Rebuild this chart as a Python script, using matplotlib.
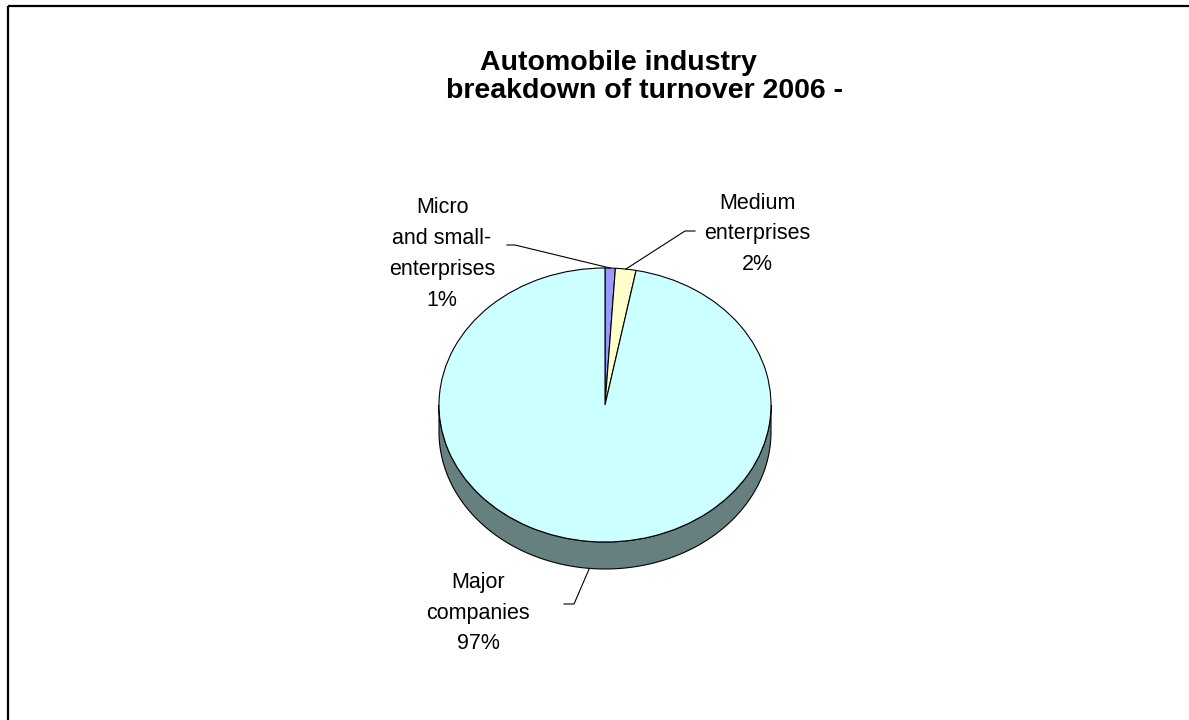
import numpy as np
import matplotlib
matplotlib.use("Agg")
import matplotlib.pyplot as plt
from matplotlib.patches import Rectangle, Polygon

plt.rcParams['font.family'] = ['Liberation Sans', 'DejaVu Sans']

# turnover share by company size, 2006
sizes = ["Micro\nand small-\nenterprises", "Medium\nenterprises", "Major\ncompanies"]
shares = [1, 2, 97]
colors = ["#9999FF", "#FFFFCC", "#CCFFFF"]
side_color = "#668080"

W, H = 1189, 720
fig = plt.figure(figsize=(W / 100, H / 100), dpi=100)

# overlay in pixel units for text, border and leader lines
over = fig.add_axes([0, 0, 1, 1], zorder=3)
over.set_xlim(0, W)
over.set_ylim(H, 0)
over.axis("off")
over.patch.set_alpha(0)

# pie geometry (pixels)
cx, cy = 605, 405
rx, ry = 166, 137
depth = 27
span = 1.3
pie_ax = fig.add_axes([(cx - span * rx) / W, 1 - (cy + span * ry) / H,
                       2 * span * rx / W, 2 * span * ry / H], zorder=2)

# side of the disc (front half), shifted down by depth
d = depth / ry
t = np.linspace(np.pi, 2 * np.pi, 200)
band = np.concatenate([np.column_stack([np.cos(t), np.sin(t)]),
                       np.column_stack([np.cos(t[::-1]), np.sin(t[::-1]) - d])])
pie_ax.add_patch(Polygon(band, closed=True, facecolor=side_color,
                         edgecolor="black", linewidth=0.8, zorder=0))

wedges, _ = pie_ax.pie(shares, colors=colors, startangle=90, counterclock=False,
                       wedgeprops=dict(edgecolor="black", linewidth=0.8))
pie_ax.set_aspect("auto")
pie_ax.set_xlim(-span, span)
pie_ax.set_ylim(-span, span)
pie_ax.axis("off")


def rim_point(i, drop=0.0):
    # mid-angle point on the rim of wedge i, in overlay pixels
    cum = np.cumsum([0] + shares)
    ang = np.deg2rad(90 - 360 * (cum[i] + cum[i + 1]) / 2 / sum(shares))
    return cx + rx * np.cos(ang), cy - ry * np.sin(ang) + drop


# labels: text position, stub start, stub end
label_pos = [(442, 254), (757, 234), (478, 613)]
stubs = [((507, 245), (515, 245)), ((695, 231), (685, 231)), ((564, 604), (574, 604))]
drops = [0, 0, depth]

for i, name in enumerate(sizes):
    txt = f"{name}\n{shares[i]}%"
    over.text(label_pos[i][0], label_pos[i][1], txt, ha="center", va="center",
              fontsize=15.5, linespacing=1.62, multialignment="center")
    (x0, y0), (x1, y1) = stubs[i]
    px, py = rim_point(i, drops[i])
    over.plot([x0, x1, px], [y0, y1, py], color="black", linewidth=0.8)

# title
over.text(618, 63, "Automobile industry", ha="center", va="center",
          fontsize=20.5, fontweight="bold")
over.text(644, 91, "breakdown of turnover 2006 -", ha="center", va="center",
          fontsize=20.5, fontweight="bold")

# chart border
over.add_patch(Rectangle((8, 6), W, H, fill=False, edgecolor="black", linewidth=1.6))

fig.savefig("out.png", dpi=100)
